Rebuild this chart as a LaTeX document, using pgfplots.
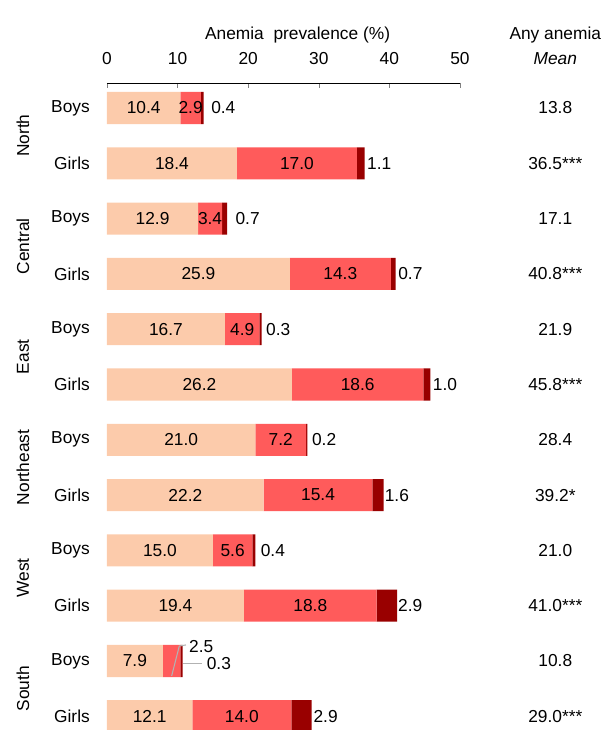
\documentclass[border=0pt]{standalone}
\usepackage{pgfplots}
\pgfplotsset{compat=1.18}
\usepackage{fontspec}
\setmainfont{Liberation Sans}
\definecolor{mild}{RGB}{252,203,171}
\definecolor{moder}{RGB}{255,91,91}
\definecolor{sev}{RGB}{153,0,0}
\begin{document}
\begin{tikzpicture}
\fontsize{13}{15}\selectfont
\begin{axis}[
  set layers,
  scale only axis,
  width=264.75pt, height=485.25pt,
  xmin=0, xmax=50, ymin=-11.248, ymax=0.452,
  xbar stacked, bar width=0.58,
  axis x line*=top, axis y line=none,
  xtick={0,10,...,50}, tick align=inside,
  major tick length=3.75pt,
  xticklabel style={font=\fontsize{13}{15}\selectfont, yshift=9.5pt},
  /pgf/number format/assume math mode=true,
  ytick=\empty,
  clip=false,
  every axis plot/.append style={draw=none},
]
\addplot[fill=mild, on layer=axis background] coordinates {(10.4,0) (18.4,-1) (12.9,-2) (25.9,-3) (16.7,-4) (26.2,-5) (21.0,-6) (22.2,-7) (15.0,-8) (19.4,-9) (7.9,-10) (12.1,-11)};
\addplot[fill=moder, on layer=axis background] coordinates {(2.9,0) (17.0,-1) (3.4,-2) (14.3,-3) (4.9,-4) (18.6,-5) (7.2,-6) (15.4,-7) (5.6,-8) (18.8,-9) (2.5,-10) (14.0,-11)};
\addplot[fill=sev, on layer=axis background] coordinates {(0.4,0) (1.1,-1) (0.7,-2) (0.7,-3) (0.3,-4) (1.0,-5) (0.2,-6) (1.6,-7) (0.4,-8) (2.9,-9) (0.3,-10) (2.9,-11)};

% segment labels (last field: gap in px between bar end and label)
\foreach \y/\a/\b/\c/\g in {0/10.4/2.9/0.4/8, -1/18.4/17.0/1.1/3, -2/12.9/3.4/0.7/9, -3/25.9/14.3/0.7/3, -4/16.7/4.9/0.3/5, -5/26.2/18.6/1.0/3, -6/21.0/7.2/0.2/5, -7/22.2/15.4/1.6/1.5, -8/15.0/5.6/0.4/6, -9/19.4/18.8/2.9/1.5, -11/12.1/14.0/2.9/2.3}{
  \pgfmathsetmacro{\xa}{\a/2}
  \pgfmathsetmacro{\xb}{\a+\b/2}
  \pgfmathsetmacro{\xc}{\a+\b+\c+(\g-0.7)/7.06}
  \edef\temp{\noexpand\node[inner sep=0pt] at (axis cs:\xa,\y) {\a};
    \noexpand\node[inner sep=0pt] at (axis cs:\xb,\y) {\b};
    \noexpand\node[inner sep=0pt, anchor=west] at (axis cs:\xc,\y) {\c};}
  \temp
}
% South boys
\node[inner sep=0pt] at (axis cs:3.95,-10) {7.9};
\draw[gray!60, line width=0.8pt] (axis cs:9.16,-10.27) -- (axis cs:10.24,-9.73) -- (axis cs:11.19,-9.71);
\draw[gray!60, line width=0.8pt] (axis cs:10.76,-10.04) -- (axis cs:13.4,-10.04);
\node[inner sep=0pt, anchor=west] at (axis cs:11.6,-9.73) {2.5};
\node[inner sep=0pt, anchor=west] at (axis cs:14.1,-10.04) {0.3};

% row labels
\foreach \y in {0,-2,-4,-6,-8,-10}{
  \edef\temp{\noexpand\node[inner sep=0pt, anchor=east] at (axis cs:-2.4,\y) {Boys};}\temp
}
\foreach \y in {-1,-3,-5,-7,-9,-11}{
  \edef\temp{\noexpand\node[inner sep=0pt, anchor=east] at (axis cs:-2.4,\y) {Girls};}\temp
}
\foreach \y/\r in {-0.5/North,-2.5/Central,-4.5/East,-6.5/Northeast,-8.5/West,-10.5/South}{
  \edef\temp{\noexpand\node[inner sep=0pt, rotate=90] at (axis cs:-11.9,\y) {\r};}\temp
}
% right column
\foreach \y/\m in {0/13.8,-1/36.5***,-2/17.1,-3/40.8***,-4/21.9,-5/45.8***,-6/28.4,-7/39.2*,-8/21.0,-9/41.0***,-10/10.8,-11/29.0***}{
  \edef\temp{\noexpand\node[inner sep=0pt] at (axis cs:63.5,\y) {\m};}\temp
}
\node[inner sep=0pt] at (axis cs:63.5,1.325) {Any anemia};
\node[inner sep=0pt] at (axis cs:63.5,0.891) {\itshape Mean};
\node[inner sep=0pt] at (axis cs:27,1.325) {Anemia\ \ prevalence (\%)};

\coordinate (bl) at (rel axis cs:-0.3031,0);
\coordinate (tr) at (rel axis cs:1.4079,1.1283);
\end{axis}
\pgfresetboundingbox
\path[use as bounding box] (bl) rectangle (tr);
\end{tikzpicture}
\end{document}
